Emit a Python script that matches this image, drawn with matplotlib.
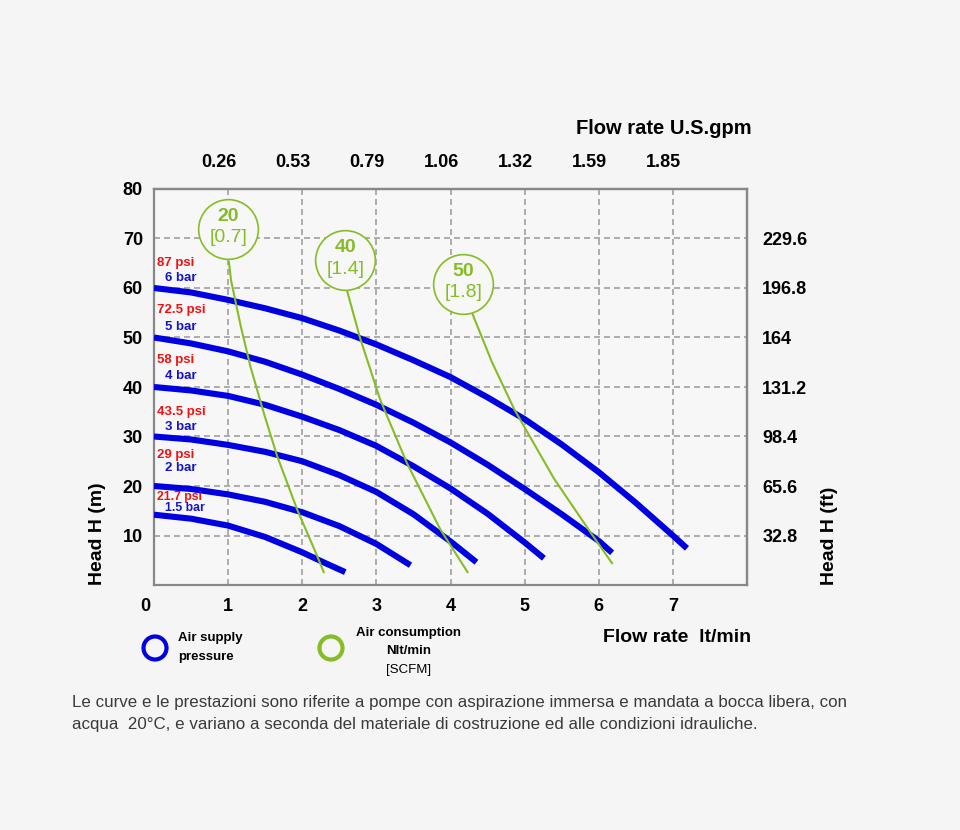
import matplotlib
matplotlib.use('Agg')
import matplotlib.pyplot as plt
from matplotlib.patches import Circle
from matplotlib.transforms import ScaledTranslation

plt.rcParams['font.family'] = ['Liberation Sans', 'DejaVu Sans']

# Air supply pressure curves (flow lt/min, head m)
x_6bar = [0, 0.5, 1, 1.5, 2, 2.5, 3, 3.5, 4, 4.5, 5, 5.5, 6, 6.5, 7, 7.19]
y_6bar = [60, 59.1, 57.6, 55.9, 53.9, 51.4, 48.6, 45.4, 42.0, 37.9, 33.5, 28.4, 22.8, 16.6, 10.0, 7.4]
x_5bar = [0, 0.5, 1, 1.5, 2, 2.5, 3, 3.5, 4, 4.5, 5, 5.5, 6, 6.18]
y_5bar = [50, 48.8, 47.2, 45.1, 42.5, 39.6, 36.4, 32.8, 28.8, 24.3, 19.4, 14.3, 8.9, 6.5]
x_4bar = [0, 0.5, 1, 1.5, 2, 2.5, 3, 3.5, 4, 4.5, 5, 5.26]
y_4bar = [40, 39.3, 38.2, 36.4, 34.0, 31.3, 28.1, 24.0, 19.5, 14.4, 8.6, 5.4]
x_3bar = [0, 0.5, 1, 1.5, 2, 2.5, 3, 3.5, 4, 4.35]
y_3bar = [30, 29.4, 28.3, 26.9, 25.0, 22.2, 18.8, 14.3, 8.8, 4.6]
x_2bar = [0, 0.5, 1, 1.5, 2, 2.5, 3, 3.46]
y_2bar = [20, 19.4, 18.3, 16.8, 14.7, 11.9, 8.3, 4.0]
x_15bar = [0, 0.5, 1, 1.5, 2, 2.3, 2.58]
y_15bar = [14.2, 13.4, 12.0, 9.7, 6.6, 4.5, 2.6]

psi_labels = ['87 psi', '72.5 psi', '58 psi', '43.5 psi', '29 psi', '21.7 psi']
bar_labels = ['6 bar', '5 bar', '4 bar', '3 bar', '2 bar', '1.5 bar']

# Air consumption curves
x_air20 = [1.01, 1.04, 1.17, 1.30, 1.48, 1.66, 1.93, 2.20, 2.29]
y_air20 = [65.3, 61.5, 52.3, 44.2, 34.8, 26.1, 15.3, 5.9, 2.6]
x_air40 = [2.60, 2.78, 3.05, 3.41, 3.86, 4.23]
y_air40 = [59.7, 49.9, 37.5, 24.7, 11.3, 2.6]
x_air50 = [4.29, 4.56, 4.86, 5.40, 5.89, 6.18]
y_air50 = [55.0, 45.0, 35.5, 21.4, 10.6, 4.4]

air_nlt = ['20', '40', '50']
air_scfm = ['[0.7]', '[1.4]', '[1.8]']
bubble_x = [1.0, 2.58, 4.17]
bubble_y = [72.0, 65.6, 60.9]

lpm_ticks = [0, 1, 2, 3, 4, 5, 6, 7]
gpm_ticks = [1, 2, 3, 4, 5, 6, 7]
gpm_labels = ['0.26', '0.53', '0.79', '1.06', '1.32', '1.59', '1.85']
m_ticks = [10, 20, 30, 40, 50, 60, 70, 80]
ft_ticks = [10, 20, 30, 40, 50, 60, 70]
ft_labels = ['32.8', '65.6', '98.4', '131.2', '164', '196.8', '229.6']

BLUE = '#0000e0'
GREEN = '#86bc25'
RED = '#ee1111'
BG = '#f5f5f5'

fig = plt.figure(figsize=(9.6, 8.3), dpi=100, facecolor=BG)
ax = fig.add_axes([154/960, 1-585/830, (747-154)/960, (585-189)/830])
ax.set_facecolor('#f7f7f7')
ax.set_xlim(0, 8)
ax.set_ylim(0, 80)

ax.set_xticks(lpm_ticks, [str(t) for t in lpm_ticks], fontsize=13, fontweight='bold')
ax.set_yticks(m_ticks, [str(t) for t in m_ticks], fontsize=13, fontweight='bold')
ax.tick_params(axis='x', length=0, pad=9)
ax.tick_params(axis='y', length=0, pad=8)
ax.grid(True, ls=(0, (3.6, 2.4)), color='#a0a0a0', lw=1.2, zorder=0)
for s in ax.spines.values():
    s.set_color('#888888')
    s.set_linewidth(1.6)
# the "0" sits a bit left of the axis in the original
lab0 = ax.get_xticklabels()[0]
lab0.set_transform(lab0.get_transform() + ScaledTranslation(-0.09, 0, fig.dpi_scale_trans))

top = ax.secondary_xaxis('top')
top.set_xticks(gpm_ticks, gpm_labels, fontsize=13, fontweight='bold')
top.tick_params(length=0, pad=13)
top.spines['top'].set_color('#888888')
top.spines['top'].set_linewidth(1.6)
for lab in top.get_xticklabels():
    lab.set_transform(lab.get_transform() + ScaledTranslation(-0.09, 0, fig.dpi_scale_trans))

right = ax.secondary_yaxis('right')
right.set_yticks(ft_ticks, ft_labels, fontsize=13, fontweight='bold')
right.tick_params(length=0, pad=11)
right.spines['right'].set_color('#888888')
right.spines['right'].set_linewidth(1.6)

# pressure curves
curves = [(x_6bar, y_6bar), (x_5bar, y_5bar), (x_4bar, y_4bar),
          (x_3bar, y_3bar), (x_2bar, y_2bar), (x_15bar, y_15bar)]
for xs, ys in curves:
    ax.plot(xs, ys, color=BLUE, lw=4.4, solid_capstyle='butt',
            solid_joinstyle='round', zorder=3)

# labels near the start of each curve (offsets in px)
psi_dy = [25, 27, 27, 24, 31, 18]
bar_dy = [10, 10, 11, 10, 18, 7]
for i, (xs, ys) in enumerate(curves):
    fs = 9.5 if i < 5 else 8.8
    ax.annotate(psi_labels[i], (0, ys[0]), xytext=(3*0.72, psi_dy[i]*0.72),
                textcoords='offset points', ha='left', va='center',
                color=RED, fontsize=fs, fontweight='bold', zorder=5)
    ax.annotate(bar_labels[i], (0, ys[0]), xytext=(11*0.72, bar_dy[i]*0.72),
                textcoords='offset points', ha='left', va='center',
                color='#1414c8', fontsize=fs, fontweight='bold', zorder=5)

# air consumption lines
for xs, ys in [(x_air20, y_air20), (x_air40, y_air40), (x_air50, y_air50)]:
    ax.plot(xs, ys, color=GREEN, lw=1.5, solid_joinstyle='round', zorder=4)

ax.scatter(bubble_x, bubble_y, s=43**2, facecolor='#f7f7f7', edgecolor=GREEN,
           lw=1.2, zorder=6, clip_on=False)
for bx, by, a, b in zip(bubble_x, bubble_y, air_nlt, air_scfm):
    ax.annotate(a, (bx, by), xytext=(0, 9), textcoords='offset points',
                ha='center', va='center', color=GREEN, fontsize=14,
                fontweight='bold', zorder=7)
    ax.annotate(b, (bx, by), xytext=(0, -6.5), textcoords='offset points',
                ha='center', va='center', color=GREEN, fontsize=14, zorder=7)

# axis titles
fig.text(752/960, 1-129/830, 'Flow rate U.S.gpm', ha='right', va='center',
         fontsize=14.5, fontweight='bold')
fig.text(751/960, 1-637/830, 'Flow rate  lt/min', ha='right', va='center',
         fontsize=14, fontweight='bold')
fig.text(97/960, 1-534/830, 'Head H (m)', rotation=90, ha='center', va='center',
         fontsize=14, fontweight='bold')
fig.text(830/960, 1-536/830, 'Head H (ft)', rotation=90, ha='center', va='center',
         fontsize=14, fontweight='bold')

# legend
fig.add_artist(Circle((1.55, 8.3-6.48), 0.115, transform=fig.dpi_scale_trans,
                      facecolor='none', edgecolor=BLUE, lw=3))
fig.add_artist(Circle((3.31, 8.3-6.48), 0.115, transform=fig.dpi_scale_trans,
                      facecolor='none', edgecolor=GREEN, lw=3))
fig.text(178/960, 1-638/830, 'Air supply', ha='left', va='center',
         fontsize=9.5, fontweight='bold')
fig.text(178/960, 1-657/830, 'pressure', ha='left', va='center',
         fontsize=9.5, fontweight='bold')
fig.text(409/960, 1-633/830, 'Air consumption', ha='center', va='center',
         fontsize=9.5, fontweight='bold')
fig.text(409/960, 1-651/830, 'Nlt/min', ha='center', va='center',
         fontsize=9.5, fontweight='bold')
fig.text(409/960, 1-670/830, '[SCFM]', ha='center', va='center', fontsize=9.5)

# note
fig.text(72/960, 1-702/830,
         'Le curve e le prestazioni sono riferite a pompe con aspirazione immersa e mandata a bocca libera, con',
         ha='left', va='center', fontsize=12.2, color='#3a3a3a')
fig.text(72/960, 1-724/830,
         'acqua  20°C, e variano a seconda del materiale di costruzione ed alle condizioni idrauliche.',
         ha='left', va='center', fontsize=12.2, color='#3a3a3a')

fig.savefig('out.png', dpi=100, facecolor=BG)
